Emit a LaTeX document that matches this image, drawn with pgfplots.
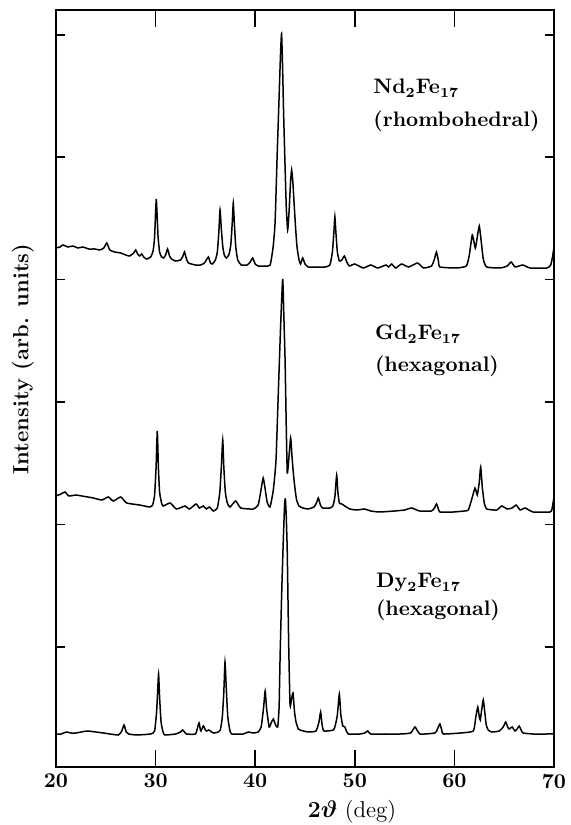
\documentclass[border=0pt]{standalone}
\usepackage{pgfplots}
\pgfplotsset{compat=1.18}
\usepackage{bm}
\pgfplotstableread{
x y
20.0 519
20.4 520
20.7 522
21.2 520
21.7 521
22.2 519
22.7 520
23.3 518
23.9 518
24.4 517
24.8 519
25.1 524
25.4 517
25.9 515
26.5 514
27.0 512
27.4 511
27.8 514
28.0 517
28.2 513
28.4 511
28.6 513
28.8 510
29.1 508
29.5 510
29.75 516
29.9 530
30.0 555
30.07 568
30.15 552
30.25 530
30.4 515
30.6 510
30.8 509
31.0 512
31.2 518
31.4 511
31.6 508
32.0 506
32.5 507
32.75 511
32.9 515
33.1 508
33.3 504
34.0 502
34.5 502
34.9 504
35.3 510
35.5 504
35.7 503
36.0 507
36.2 515
36.35 535
36.47 557
36.6 538
36.75 520
36.9 512
37.1 509
37.35 512
37.55 522
37.7 545
37.8 564
37.9 545
38.05 520
38.25 507
38.6 502
39.2 502
39.5 505
39.75 509
40.0 503
40.3 501
41.0 501
41.5 502
41.8 520
42.0 545
42.2 610
42.4 670
42.55 715
42.65 733
42.75 700
42.85 655
43.0 600
43.12 560
43.26 537
43.4 555
43.55 585
43.66 597
43.78 585
43.9 565
44.05 540
44.2 520
44.4 507
44.55 503
44.77 509
45.0 503
45.33 500
46.0 500
47.0 500
47.5 502
47.75 515
47.9 535
48.0 550
48.1 535
48.25 515
48.45 506
48.7 507
48.95 511
49.2 505
49.45 501
50.0 503
50.85 499
51.6 502
52.3 499
53.13 502
53.4 500
53.7 503
54.1 499
54.7 503
55.4 500
56.3 504
56.9 499
57.7 501
58.0 508
58.2 515
58.4 506
58.55 500
60.2 499
61.2 501
61.5 512
61.8 532
62.1 519
62.3 530
62.5 541
62.7 525
62.9 508
63.24 500
64.6 499
65.3 501
65.7 505
66.1 500
66.86 502
67.6 499
69.3 499
69.67 502
69.85 510
70.0 520
}\ndtable
\pgfplotstableread{
x y
20.0 271
20.5 273
20.9 275
21.3 271
22.0 272
22.6 271
23.2 270
23.75 269
24.6 267
25.25 270
25.75 266
26.5 270
27.1 264
28.4 262
29.4 260
29.7 262
29.9 272
30.05 300
30.17 336
30.28 300
30.4 275
30.6 264
30.77 261
31.45 264
32.1 258
32.95 261
33.4 258
34.06 263
34.4 259
34.8 261
35.1 258
35.4 260
35.8 256
36.2 259
36.45 275
36.6 300
36.74 327
36.85 300
37.0 275
37.2 264
37.47 260
38.04 266
38.55 259
39.8 258
40.3 262
40.55 275
40.8 289
41.0 278
41.2 265
41.49 260
41.82 277
42.09 307
42.32 374
42.55 440
42.76 488
42.88 450
43.0 407
43.12 340
43.22 294
43.35 305
43.56 329
43.7 310
43.83 294
44.0 278
44.16 267
44.4 261
44.8 259
45.3 258
45.9 260
46.15 264
46.34 269
46.55 262
46.77 259
47.5 259
47.8 261
48.0 270
48.18 292
48.3 275
48.45 264
48.7 263
49.0 261
49.5 258
50.2 257
51.0 258
51.6 256
52.5 255
54.0 256
55.0 257
55.7 259
56.5 256
57.7 256
58.0 259
58.2 263
58.4 258
58.55 255
59.9 255
61.0 256
61.4 257
61.75 268
62.07 279
62.3 272
62.5 285
62.64 300
62.8 280
63.0 264
63.24 258
64.25 257
64.75 261
65.3 258
65.8 259
66.2 262
66.6 257
67.1 259
67.9 255
69.6 255
69.8 258
70.0 270
}\gdtable
\pgfplotstableread{
x y
20.0 33
20.5 33
21.07 35
21.5 34
22.0 34
23.1 36
24.0 35
24.75 34
26.25 32
26.6 36
26.83 42
27.05 35
27.3 33
28.1 32
29.5 33
29.9 36
30.1 55
30.2 75
30.3 93
30.4 70
30.55 45
30.75 35
30.94 32
32.0 33
32.5 35
32.72 37
33.1 33
34.0 33
34.2 39
34.36 44
34.5 37
34.56 36
34.8 41
35.0 37
35.13 36
35.35 37
35.8 34
36.3 35
36.5 37
36.7 50
36.85 75
36.97 105
37.1 78
37.25 50
37.45 37
37.64 33
38.8 33
39.3 35
39.8 34
40.3 35
40.6 40
40.85 60
41.0 76
41.15 58
41.4 40
41.6 44
41.82 48
42.05 42
42.26 40
42.4 60
42.5 110
42.65 170
42.8 220
42.95 262
43.03 268
43.12 250
43.22 215
43.36 124
43.5 62
43.65 68
43.8 74
43.95 55
44.1 45
44.33 38
44.5 37
45.3 35
46.1 36
46.4 45
46.57 55
46.72 42
46.9 36
47.85 37
48.05 42
48.25 52
48.45 73
48.6 52
48.8 41
49.0 40
49.2 35
49.35 33
50.5 33
51.0 34
51.3 36
51.6 33
53.0 33
54.54 33
55.6 34
56.05 40
56.55 33
58.05 34
58.3 38
58.55 43
58.75 36
58.9 33
60.6 34
61.9 36
62.15 50
62.35 60
62.5 50
62.6 47
62.75 58
62.9 67
63.05 55
63.2 42
63.4 37
63.75 35
64.5 36
64.9 40
65.15 45
65.35 40
65.5 38
65.8 40
66.08 36
66.3 38
66.5 41
66.7 37
66.9 34
67.9 33
69.27 33
70.0 33
}\dytable
\begin{document}
\begin{tikzpicture}
\path[use as bounding box] (-28pt,-29pt) rectangle (257pt,383.5pt);
\begin{axis}[
  at={(0pt,0pt)}, anchor=south west,
  scale only axis, width=249pt, height=378.5pt,
  xmin=20, xmax=70, ymin=0, ymax=757,
  xtick={20,30,40,50,60,70},
  xticklabels={20,30,40,50,60,70},
  xticklabel style={font=\fontsize{10.5}{12}\selectfont\bfseries},
  ytick=\empty,
  tick align=inside,
  major tick length=8.5pt,
  tick style={line width=0.8pt, black},
  axis line style={line width=0.9pt},
]
\addplot[black, line width=0.75pt, mark=none, smooth, tension=0.3] table[x=x, y=y] {\ndtable};
\addplot[black, line width=0.75pt, mark=none, smooth, tension=0.3] table[x=x, y=y] {\gdtable};
\addplot[black, line width=0.75pt, mark=none, smooth, tension=0.3] table[x=x, y=y] {\dytable};
\node[anchor=base west, inner sep=0pt, font=\fontsize{10.5}{12}\selectfont\bfseries] at (axis cs:51.83,673) {Nd$_{\mathbf{2}}$Fe$_{\mathbf{17}}$};
\node[anchor=base west, inner sep=0pt, font=\fontsize{10.5}{12}\selectfont\bfseries] at (axis cs:51.83,640) {(rhombohedral)};
\node[anchor=base west, inner sep=0pt, font=\fontsize{10.5}{12}\selectfont\bfseries] at (axis cs:52.0,427) {Gd$_{\mathbf{2}}$Fe$_{\mathbf{17}}$};
\node[anchor=base west, inner sep=0pt, font=\fontsize{10.5}{12}\selectfont\bfseries] at (axis cs:52.0,395) {(hexagonal)};
\node[anchor=base west, inner sep=0pt, font=\fontsize{10.5}{12}\selectfont\bfseries] at (axis cs:52.1,179) {Dy$_{\mathbf{2}}$Fe$_{\mathbf{17}}$};
\node[anchor=base west, inner sep=0pt, font=\fontsize{10.5}{12}\selectfont\bfseries] at (axis cs:52.1,151) {(hexagonal)};
\end{axis}
\begin{axis}[
  at={(0pt,0pt)}, anchor=south west,
  scale only axis, width=249pt, height=378.5pt,
  xmin=20, xmax=70, ymin=0, ymax=757,
  xtick=\empty,
  ytick={120,242.5,365,487.5,610,732},
  yticklabel={\phantom{0}},
  tick align=inside,
  major tick length=4.5pt,
  tick style={line width=0.8pt, black},
  axis line style={line width=0.9pt},
]
\end{axis}
\node[rotate=90, font=\fontsize{11}{13}\selectfont\bfseries] at (-16.5pt,204pt) {Intensity (arb. units)};
\node[font=\fontsize{11.5}{13}\selectfont] at (148pt,-22.5pt) {\textbf{2$\bm{\vartheta}$} (deg)};
\end{tikzpicture}
\end{document}
